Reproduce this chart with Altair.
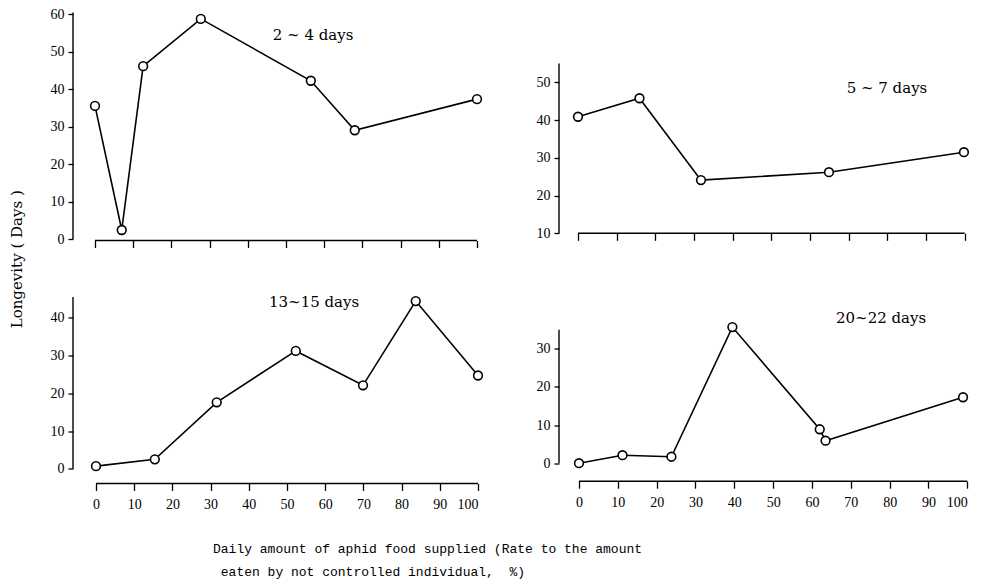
import altair as alt
import pandas as pd

# Longevity (days) against daily aphid food supplied (% of the amount eaten
# by an uncontrolled individual), one series per starvation onset period.
labels = ["2 ~ 4 days", "5 ~ 7 days", "13~15 days", "20~22 days"]

food_2_4 = [0, 7, 12.6, 27.7, 56.5, 68, 100]
life_2_4 = [35.5, 2.4, 46.1, 58.7, 42.2, 29, 37.3]

food_5_7 = [0, 15.9, 31.8, 64.9, 99.8]
life_5_7 = [40.9, 45.8, 24.1, 26.2, 31.5]

food_13_15 = [0, 15.4, 31.6, 52.3, 69.9, 83.7, 100]
life_13_15 = [0.7, 2.5, 17.6, 31.2, 22.1, 44.4, 24.7]

food_20_22 = [0, 11.2, 23.8, 39.5, 62.0, 63.5, 98.9]
life_20_22 = [0, 2.1, 1.7, 35.7, 8.9, 5.9, 17.3]

x_ticks = list(range(0, 101, 10))

TICK_FONT = "Liberation Serif"
LABEL_FONT = "DejaVu Serif"


def panel(xs, ys, label, label_pos, xdom, ydom, yline, yticks, w, h, xlabels):
    pts = pd.DataFrame({"x": xs, "y": ys})
    xsc = alt.Scale(domain=xdom, nice=False, zero=False)
    ysc = alt.Scale(domain=ydom, nice=False, zero=False)
    xax = alt.Axis(values=x_ticks, domain=False, grid=False, tickSize=7,
                   labels=xlabels, labelPadding=7, format="d")
    yax = alt.Axis(values=yticks, domain=False, grid=False, tickSize=5,
                   labelPadding=4, format="d")

    def enc():
        return dict(x=alt.X("x:Q", scale=xsc, axis=xax, title=None),
                    y=alt.Y("y:Q", scale=ysc, axis=yax, title=None))

    # axis lines: vertical one at the left edge, horizontal one from 0 to 100
    frame = pd.DataFrame({
        "x": [xdom[0], 0], "x2": [xdom[0], 100],
        "y": [yline[0], ydom[0]], "y2": [yline[1], ydom[0]],
    })
    axes = alt.Chart(frame).mark_rule(color="black", strokeWidth=1.4).encode(
        x2="x2:Q", y2="y2:Q", **enc())
    line = alt.Chart(pts).mark_line(color="black", strokeWidth=1.6).encode(**enc())
    dots = alt.Chart(pts).mark_point(
        shape="circle", filled=True, fill="white", stroke="black",
        strokeWidth=1.6, size=76, opacity=1).encode(**enc())
    tag = alt.Chart(pd.DataFrame({"x": [label_pos[0]], "y": [label_pos[1]],
                                  "t": [label]})).mark_text(
        font=LABEL_FONT, fontSize=15, color="black").encode(text="t:N", **enc())
    return alt.layer(axes, line, dots, tag).properties(width=w, height=h)


p1 = panel(food_2_4, life_2_4, labels[0], (57.1, 54.4),
           [-5.76, 100], [-0.4, 61.07], [0, 60.4], list(range(0, 61, 10)),
           404, 230.5, False)
p2 = panel(food_5_7, life_5_7, labels[1], (79.9, 48.5),
           [-4.91, 100], [10, 69.2], [10, 55], list(range(10, 51, 10)),
           405.7, 223.3, False)
p3 = panel(food_13_15, life_13_15, labels[2], (57.1, 44.1),
           [-6.02, 100], [-3.9, 47.2], [0, 45.5], list(range(0, 41, 10)),
           405, 193, True)
p4 = panel(food_20_22, life_20_22, labels[3], (77.8, 38.0),
           [-5.15, 100], [-4.72, 45.3], [0, 35], list(range(0, 31, 10)),
           408.3, 190.7, True)

grid = alt.concat(
    p1, p2, p3, p4, columns=2, bounds="flush", align="each",
    spacing=alt.RowColnumber(column=81, row=49.5),
).properties(
    title=alt.TitleParams("Longevity ( Days )", orient="left", anchor="middle",
                          font=LABEL_FONT, fontSize=15, fontWeight="normal",
                          color="black", offset=25)
)

chart = alt.vconcat(grid).properties(
    title=alt.TitleParams(
        ["Daily amount of aphid food supplied (Rate to the amount",
         "\u200b\u00a0eaten by not controlled individual,\u00a0\u00a0%)"],
        orient="bottom", anchor="start", align="left", dx=203, offset=31,
        font="Liberation Mono", fontSize=13, fontWeight="normal",
        color="black", lineHeight=23),
    padding={"left": 9, "top": 7, "right": 5, "bottom": 5},
).configure_view(
    stroke=None
).configure_axis(
    labelFont=TICK_FONT, labelFontSize=14, labelColor="black",
    tickColor="black", tickWidth=1.3,
)

chart.save("out.html", embed_options={"renderer": "svg", "actions": False})
